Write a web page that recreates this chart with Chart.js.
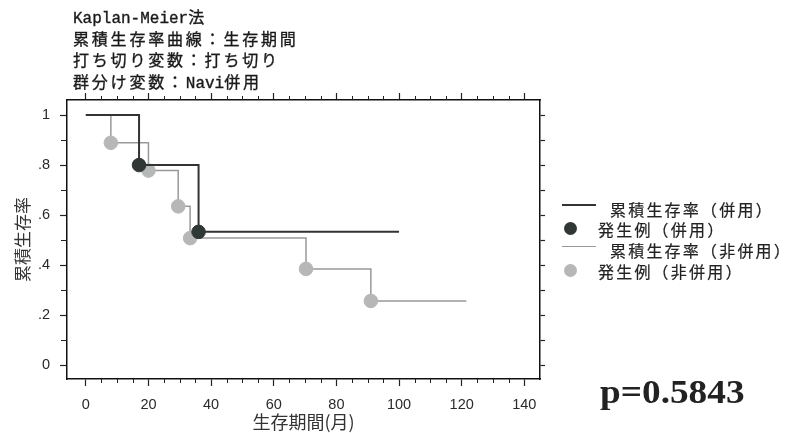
<!DOCTYPE html>
<html>
<head>
<meta charset="utf-8">
<script src="https://cdn.jsdelivr.net/npm/chart.js@4.4.1/dist/chart.umd.min.js"></script>
<style>
  html, body { margin: 0; padding: 0; background: #fff; }
  #wrap { position: relative; width: 792px; height: 433px; overflow: hidden; }
  #chart_km { position: absolute; left: 0; top: 0; }
  .title { position: absolute; left: 73px; top: 7px; font-family: "Liberation Mono", "Noto Sans CJK JP", monospace;
           font-size: 16px; line-height: 18.5px; color: #1a1a1a; white-space: nowrap; -webkit-text-stroke: 0.35px #1a1a1a; }
  .title .j { font-family: "Noto Sans CJK JP", sans-serif; letter-spacing: 2.8px; }
  .leg { position: absolute; font-family: "Noto Sans CJK JP", sans-serif; font-size: 16px; color: #222;
         letter-spacing: 2.2px; white-space: nowrap; line-height: 20px; -webkit-text-stroke: 0.2px #222; }
  .legline { position: absolute; left: 562px; width: 34px; }
  .legdot { position: absolute; left: 564px; width: 13px; height: 13px; border-radius: 50%; }
  .pval { position: absolute; left: 600px; top: 372px; font-family: "Liberation Serif", serif; font-weight: bold;
          font-size: 33px; line-height: 40px; color: #222; transform: scaleX(1.13); transform-origin: left center; }
</style>
</head>
<body>
<div id="wrap">
  <canvas id="chart_km" width="792" height="433"></canvas>
  <div class="title">
    <div>Kaplan-Meier<span class="j">法</span></div>
    <div><span class="j">累積生存率曲線：生存期間</span></div>
    <div><span class="j">打ち切り変数：打ち切り</span></div>
    <div><span class="j">群分け変数：</span>Navi<span class="j">併用</span></div>
  </div>
  <div class="legline" style="top:204px;border-top:2px solid #333;"></div>
  <div class="leg" style="left:610px;top:199px;">累積生存率（併用）</div>
  <div class="legdot" style="top:222px;background:#2f3835;"></div>
  <div class="leg" style="left:598px;top:219px;">発生例（併用）</div>
  <div class="legline" style="top:246px;border-top:1.5px solid #999;"></div>
  <div class="leg" style="left:610px;top:240px;">累積生存率（非併用）</div>
  <div class="legdot" style="top:264px;background:#b5b8b6;"></div>
  <div class="leg" style="left:598px;top:261px;">発生例（非併用）</div>
  <div class="pval">p=0.5843</div>
</div>
<script>
// 累積生存率（併用）: step curve
const combT = [0, 17, 36, 100];
const combS = [1, 0.8, 0.533, 0.533];
// 発生例（併用）
const combEvT = [17, 36];
const combEvS = [0.8, 0.533];

// 累積生存率（非併用）
const nonT = [0, 8, 20, 29.5, 33.3, 70.3, 91, 121.5];
const nonS = [1, 0.889, 0.778, 0.635, 0.508, 0.385, 0.257, 0.257];
// 発生例（非併用）
const nonEvT = [8, 20, 29.5, 33.3, 70.3, 91];
const nonEvS = [0.889, 0.778, 0.635, 0.508, 0.385, 0.257];

const X_MIN = -6, X_MAX = 145;
const Y_MIN = -0.055, Y_MAX = 1.06;
const xMajor = [0, 20, 40, 60, 80, 100, 120, 140];
const yLabels = { 0: '0', 2: '.2', 4: '.4', 6: '.6', 8: '.8', 10: '1' };

function pts(xs, ys) {
    return xs.map(function (v, i) { return { x: v, y: ys[i] }; });
}

// short minor tick marks (the library only draws one tick length per axis)
const minorTicks = {
    id: 'minorTicks',
    afterDraw(chart) {
        var ctx = chart.ctx;
        var a = chart.chartArea;
        var xs = chart.scales.x, ys = chart.scales.y;
        ctx.save();
        ctx.strokeStyle = '#222';
        ctx.lineWidth = 1;
        ctx.beginPath();
        for (var v = 0; v <= 140; v += 5) {
            if (xMajor.indexOf(v) >= 0) continue;
            var px = Math.round(xs.getPixelForValue(v)) + 0.5;
            ctx.moveTo(px, a.bottom); ctx.lineTo(px, a.bottom + 4);
            ctx.moveTo(px, a.top); ctx.lineTo(px, a.top - 4);
        }
        for (var k = 1; k <= 9; k += 2) {
            var py = Math.round(ys.getPixelForValue(k / 10)) + 0.5;
            ctx.moveTo(a.left, py); ctx.lineTo(a.left - 6, py);
        }
        ctx.stroke();
        ctx.restore();
    }
};

var ctx = document.getElementById('chart_km');
var kmChart = new Chart(ctx, {
    type: 'scatter',
    data: {
        datasets: [
            {
                label: '発生例（併用）',
                data: pts(combEvT, combEvS),
                backgroundColor: '#2f3835',
                borderColor: '#2f3835',
                pointRadius: 6.8,
                showLine: false
            },
            {
                label: '累積生存率（併用）',
                data: pts(combT, combS),
                borderColor: '#333',
                borderWidth: 2,
                pointRadius: 0,
                showLine: true,
                stepped: 'before'
            },
            {
                label: '発生例（非併用）',
                data: pts(nonEvT, nonEvS),
                backgroundColor: '#b5b8b6',
                borderColor: '#b5b8b6',
                pointRadius: 6.8,
                showLine: false
            },
            {
                label: '累積生存率（非併用）',
                data: pts(nonT, nonS),
                borderColor: '#999',
                borderWidth: 1.5,
                pointRadius: 0,
                showLine: true,
                stepped: 'before'
            }
        ]
    },
    options: {
        responsive: false,
        animation: false,
        layout: { padding: 0 },
        plugins: { legend: { display: false }, tooltip: { enabled: false } },
        scales: {
            x: {
                type: 'linear', position: 'bottom', min: X_MIN, max: X_MAX,
                afterFit: function (s) { s.height = 54; },
                border: { display: true, color: '#111', width: 1.5 },
                grid: { drawOnChartArea: false, drawTicks: true, tickLength: 7, tickColor: '#222', tickWidth: 1.2 },
                ticks: {
                    stepSize: 20, includeBounds: false, padding: 10, color: '#2a2a2a',
                    font: { family: 'Liberation Sans', size: 14.5 }, maxRotation: 0
                },
                title: {
                    display: true, text: '生存期間(月)', color: '#333',
                    font: { family: 'Noto Sans CJK JP', size: 18 }, padding: { top: 0, bottom: 0 }
                }
            },
            x2: {
                type: 'linear', position: 'top', min: X_MIN, max: X_MAX,
                afterFit: function (s) { s.height = 100; },
                border: { display: true, color: '#111', width: 1.5 },
                grid: { drawOnChartArea: false, drawTicks: true, tickLength: 7, tickColor: '#222', tickWidth: 1.2 },
                ticks: { stepSize: 20, includeBounds: false, callback: function () { return ''; } }
            },
            y: {
                type: 'linear', position: 'left', min: Y_MIN, max: Y_MAX,
                afterFit: function (s) { s.width = 67; },
                border: { display: true, color: '#111', width: 1.5 },
                grid: { drawOnChartArea: false, drawTicks: true, tickLength: 7, tickColor: '#222', tickWidth: 1.2 },
                ticks: {
                    stepSize: 0.2, includeBounds: false, padding: 10, color: '#2a2a2a',
                    font: { family: 'Liberation Sans', size: 14.5 },
                    callback: function (v) {
                        var k = Math.round(v * 10);
                        return yLabels[k] !== undefined ? yLabels[k] : '';
                    }
                },
                title: {
                    display: true, text: '累積生存率', color: '#333',
                    font: { family: 'Noto Sans CJK JP', size: 17 }, padding: { top: 12, bottom: 0 }
                }
            },
            y2: {
                type: 'linear', position: 'right', min: Y_MIN, max: Y_MAX,
                afterFit: function (s) { s.width = 252; },
                border: { display: true, color: '#111', width: 1.5 },
                grid: { drawOnChartArea: false, drawTicks: true, tickLength: 5, tickColor: '#222', tickWidth: 1.2 },
                ticks: { stepSize: 0.1, includeBounds: false, callback: function () { return ''; } }
            }
        }
    },
    plugins: [minorTicks]
});
</script>
</body>
</html>
